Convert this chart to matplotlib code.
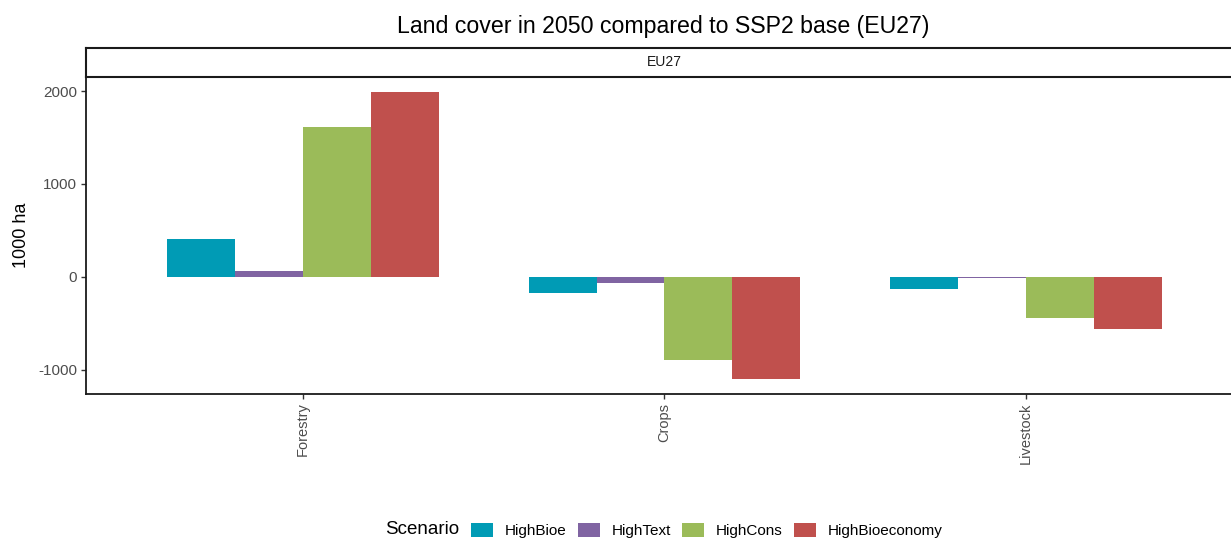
import matplotlib
matplotlib.use("Agg")
import matplotlib.pyplot as plt
import numpy as np
from matplotlib.patches import Patch

plt.rcParams['font.family'] = ['Liberation Sans', 'DejaVu Sans']

# Land cover change in 2050 relative to SSP2 base, EU27 (1000 ha)
categories = ["Forestry", "Crops", "Livestock"]
scenarios = ["HighBioe", "HighText", "HighCons", "HighBioeconomy"]
high_bioe = [410, -170, -130]
high_text = [68, -65, -10]
high_cons = [1612, -893, -443]
high_bioeconomy = [1990, -1097, -558]
series = [high_bioe, high_text, high_cons, high_bioeconomy]
colors = ["#009BB5", "#8064A2", "#9BBB59", "#C0504D"]

W, H = 1231, 539
fig = plt.figure(figsize=(W / 100, H / 100), dpi=100)

# panel geometry (pixels from top-left)
px_left, px_right = 86, 1243
px_top, px_bottom = 76.7, 393.5
strip_top = 48

ax = fig.add_axes([px_left / W, (H - px_bottom) / H,
                   (px_right - px_left) / W, (px_bottom - px_top) / H])

x = np.arange(1, len(categories) + 1)
n = len(scenarios)
bar_w = 0.75 / n
for i, (vals, col, name) in enumerate(zip(series, colors, scenarios)):
    offs = (i - (n - 1) / 2) * bar_w
    ax.bar(x + offs, vals, width=bar_w, color=col, label=name, linewidth=0)

ax.set_xlim(0.4, 3.6)
ax.set_ylim(-1256, 2155)
ax.set_xticks(x)
ax.set_xticklabels(categories, rotation=90, color="#4D4D4D", fontsize=10.5)
ax.set_yticks([-1000, 0, 1000, 2000])
ax.set_yticklabels(["-1000", "0", "1000", "2000"], color="#4D4D4D", fontsize=11)
ax.tick_params(axis="both", length=3.5, width=1.0, color="#333333", pad=3)
for s in ["top", "right"]:
    ax.spines[s].set_visible(False)
for s in ["left", "bottom"]:
    ax.spines[s].set_linewidth(1.3)
    ax.spines[s].set_color("#1A1A1A")
ax.set_ylabel("1000 ha", fontsize=13, color="black", labelpad=6)

# facet strip
sax = fig.add_axes([px_left / W, (H - px_top) / H,
                    (px_right - px_left) / W, (px_top - strip_top) / H])
sax.set_xticks([])
sax.set_yticks([])
for s in sax.spines.values():
    s.set_linewidth(1.5)
    s.set_color("#1A1A1A")
sax.text(0.5, 0.5, "EU27", ha="center", va="center", fontsize=10,
         color="#1A1A1A", transform=sax.transAxes)

fig.text(663 / W, 1 - 27 / H, "Land cover in 2050 compared to SSP2 base (EU27)",
         ha="center", va="center", fontsize=16.7)

# legend along the bottom
fig.text(385 / W, 1 - 530 / H, "Scenario", ha="left", va="center", fontsize=13.5)
handles = [Patch(facecolor=c, edgecolor="none", label=s) for c, s in zip(colors, scenarios)]
fig.legend(handles=handles, loc="center left", bbox_to_anchor=(471 / W, 1 - 530.5 / H),
           ncol=4, frameon=False, fontsize=11, handlelength=1.45, handleheight=1.1,
           handletextpad=0.75, columnspacing=0.75, borderpad=0, borderaxespad=0)

fig.savefig("out.png", dpi=100)
